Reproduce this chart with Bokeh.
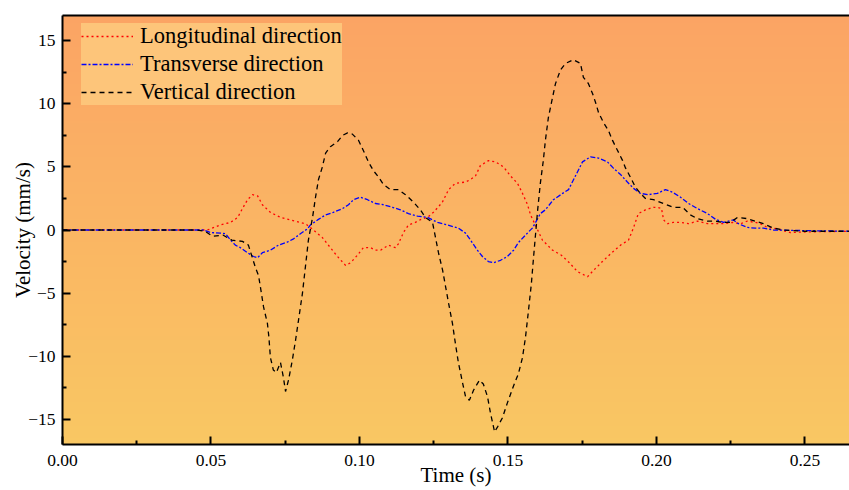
import numpy as np
from bokeh.plotting import figure
from bokeh.models import (Range1d, LinearAxis, FixedTicker, Legend, LegendItem,
                          NumeralTickFormatter)
from bokeh.embed import file_html
from bokeh.resources import INLINE

# ---------------- data ----------------
long_t = [0.0, 0.046, 0.0488, 0.0532, 0.0566, 0.059, 0.0606, 0.0623, 0.064, 0.0657, 0.0673,
          0.070, 0.0734, 0.0768, 0.0801, 0.0818, 0.0845, 0.0875, 0.0902, 0.0926, 0.0953,
          0.097, 0.0993, 0.1013, 0.1037, 0.1054, 0.1071, 0.1098, 0.1121, 0.1131, 0.1148,
          0.1165, 0.1188, 0.1212, 0.1229, 0.1249, 0.1279, 0.1300, 0.1323, 0.1357, 0.1374,
          0.1391, 0.1407, 0.1434, 0.1458, 0.1485, 0.1508, 0.1532, 0.1549, 0.1566, 0.1576,
          0.160, 0.1616, 0.165, 0.168, 0.1707, 0.1734, 0.1768, 0.1788, 0.1818, 0.1845,
          0.1879, 0.1906, 0.1923, 0.1939, 0.1963, 0.199, 0.2003, 0.2017, 0.2024, 0.2037,
          0.2057, 0.2081, 0.2108, 0.2138, 0.2172, 0.2199, 0.2226, 0.2256, 0.2283, 0.2306,
          0.2333, 0.235, 0.2374, 0.2394, 0.2418, 0.2451, 0.2508, 0.265]
long_v = [0.0, 0.0, 0.0, 0.4, 0.6, 1.0, 1.7, 2.4, 2.8, 2.7, 2.0,
          1.4, 1.0, 0.8, 0.6, 0.5, 0.0, -0.6, -1.4, -2.1, -2.8,
          -2.6, -2.0, -1.4, -1.4, -1.6, -1.6, -1.2, -1.4, -1.1, -0.2,
          0.4, 0.6, 0.9, 1.0, 1.4, 2.2, 3.2, 3.7, 3.8, 4.0,
          4.3, 5.1, 5.5, 5.4, 5.0, 4.3, 3.7, 2.9, 2.0, 1.2,
          0.0, -0.8, -1.6, -2.0, -2.6, -3.3, -3.7, -3.2, -2.5, -1.9,
          -1.2, -0.8, 0.2, 1.3, 1.6, 1.8, 1.8, 1.7, 0.8, 0.5,
          0.6, 0.6, 0.5, 0.7, 0.5, 0.5, 0.5, 0.6, 0.5, 0.7,
          0.6, 0.5, 0.2, 0.15, 0.0, -0.2, -0.15, -0.1]

trans_t = [0.0, 0.0431, 0.0475, 0.0498, 0.0532, 0.0549, 0.0566, 0.0582, 0.0599, 0.0623,
           0.0643, 0.0657, 0.0673, 0.070, 0.0727, 0.0758, 0.0778, 0.0801, 0.0825, 0.0835,
           0.0859, 0.0886, 0.0912, 0.0943, 0.0963, 0.098, 0.1003, 0.1027, 0.1054, 0.1081,
           0.1111, 0.1138, 0.1165, 0.1195, 0.1229, 0.1263, 0.1296, 0.1333, 0.1357, 0.1374,
           0.1397, 0.1414, 0.1434, 0.1451, 0.1475, 0.1498, 0.1519, 0.1535, 0.1559, 0.1582,
           0.1593, 0.1609, 0.1626, 0.1653, 0.1684, 0.1704, 0.1721, 0.1734, 0.1751, 0.1778,
           0.1805, 0.1835, 0.1855, 0.1879, 0.1902, 0.1923, 0.1946, 0.1973, 0.2003, 0.2030,
           0.2054, 0.2081, 0.2108, 0.2138, 0.2172, 0.2199, 0.2226, 0.2259, 0.2276, 0.2306,
           0.2333, 0.236, 0.2394, 0.2508, 0.265]
trans_v = [0.0, 0.0, 0.0, -0.2, -0.25, -0.3, -0.8, -1.2, -1.4, -1.8,
           -2.1, -2.2, -1.8, -1.6, -1.2, -0.95, -0.7, -0.3, 0.1, 0.4,
           0.8, 1.2, 1.4, 1.7, 2.0, 2.4, 2.6, 2.4, 2.1, 2.0,
           1.8, 1.6, 1.3, 1.1, 1.0, 0.6, 0.4, 0.15, -0.25, -0.8,
           -1.6, -2.1, -2.5, -2.6, -2.4, -2.1, -1.6, -1.0, -0.4, 0.15,
           0.6, 1.3, 1.6, 2.4, 2.9, 3.2, 4.0, 4.6, 5.4, 5.8,
           5.7, 5.4, 4.9, 4.4, 3.8, 3.3, 2.9, 2.8, 2.9, 3.2,
           3.0, 2.6, 2.1, 1.7, 1.3, 0.85, 0.6, 0.8, 0.5, 0.2,
           0.15, 0.15, 0.0, -0.05, -0.1]

vert_t = [0.0, 0.045, 0.048, 0.0505, 0.054, 0.057, 0.0606, 0.0626, 0.065, 0.066,
          0.0667, 0.0677, 0.069, 0.0695, 0.070, 0.071, 0.072, 0.0734, 0.0744, 0.0751,
          0.0761, 0.0774, 0.0785, 0.0795, 0.0808, 0.0818, 0.0828, 0.0842, 0.0852, 0.0862,
          0.0875, 0.0886, 0.0902, 0.0926, 0.0943, 0.096, 0.0976, 0.0997, 0.1013, 0.103,
          0.1047, 0.1064, 0.1081, 0.1104, 0.1131, 0.1155, 0.1182, 0.1205, 0.1222, 0.1246,
          0.1256, 0.1266, 0.128, 0.129, 0.130, 0.1313, 0.1323, 0.1333, 0.1347, 0.1357,
          0.137, 0.1384, 0.1404, 0.1417, 0.1431, 0.1441, 0.1455, 0.1465, 0.1481, 0.1498,
          0.1518, 0.1535, 0.1549, 0.1559, 0.1569, 0.1579, 0.1586, 0.1593, 0.160, 0.1609,
          0.1619, 0.1626, 0.1636, 0.165, 0.166, 0.1677, 0.1694, 0.172, 0.1744, 0.1754,
          0.1771, 0.1785, 0.1795, 0.1805, 0.1822, 0.1838, 0.1852, 0.1869, 0.1886, 0.1896,
          0.1912, 0.1929, 0.1946, 0.1963, 0.199, 0.2023, 0.2057, 0.2088, 0.2114, 0.2138,
          0.2172, 0.2199, 0.2222, 0.2249, 0.2273, 0.2306, 0.2333, 0.236, 0.2394, 0.2428,
          0.250, 0.265]
vert_v = [0.0, 0.0, -0.1, -0.5, -0.4, -0.8, -0.9, -1.2, -3.0, -3.6,
          -4.6, -6.1, -7.4, -8.5, -10.1, -11.1, -11.3, -10.5, -11.7, -12.8,
          -11.9, -10.3, -8.7, -7.1, -5.0, -2.9, -0.8, 1.0, 2.6, 4.0,
          5.0, 6.1, 6.6, 7.0, 7.5, 7.7, 7.6, 7.1, 6.3, 5.4,
          4.7, 4.2, 3.6, 3.2, 3.2, 2.8, 2.2, 1.6, 1.0, 0.6,
          -0.6, -1.8, -3.2, -4.5, -5.8, -7.4, -9.0, -10.5, -12.1, -13.2,
          -13.5, -12.7, -11.9, -12.2, -13.2, -14.5, -16.0, -15.6, -14.9, -13.7,
          -12.4, -11.4, -10.1, -8.5, -6.4, -4.2, -2.2, -0.3, 1.6, 3.7,
          5.5, 7.1, 8.9, 10.5, 11.6, 12.7, 13.2, 13.5, 13.2, 12.1,
          11.6, 10.8, 10.1, 9.3, 8.5, 7.9, 7.1, 6.3, 5.5, 4.9,
          4.2, 3.4, 2.9, 2.5, 2.4, 2.1, 1.8, 1.8, 1.2, 0.9,
          0.7, 0.7, 0.6, 0.6, 1.0, 0.9, 0.7, 0.5, 0.15, 0.0,
          -0.1, -0.1]

x_ticks = [0.0, 0.05, 0.10, 0.15, 0.20, 0.25]
x_minor = [0.025, 0.075, 0.125, 0.175, 0.225]
y_ticks = [-15, -10, -5, 0, 5, 10, 15]
y_minor = [-12.5, -7.5, -2.5, 2.5, 7.5, 12.5]
y_labels = {-15: "\u221215", -10: "\u221210", -5: "\u22125"}
series_names = ["Longitudinal direction", "Transverse direction", "Vertical direction"]
x_title = "Time (s)"
y_title = "Velocity (mm/s)"

X_MIN, X_MAX = 0.0, 0.265
Y_MIN, Y_MAX = -17.0, 17.0

FONT = "Liberation Serif"

p = figure(width=849, height=490, output_backend="svg", toolbar_location=None,
           x_range=Range1d(X_MIN, X_MAX), y_range=Range1d(Y_MIN, Y_MAX),
           min_border_left=62, min_border_right=0, min_border_top=15, min_border_bottom=46)
p.outline_line_color = None
p.xgrid.visible = False
p.ygrid.visible = False
p.background_fill_color = "#F9B56A"
p.border_fill_color = "white"

# gradient background
N = 430
img = np.empty((N, 1), dtype=np.uint32)
view = img.view(dtype=np.uint8).reshape((N, 1, 4))
bottom_c = np.array([249, 199, 99])
top_c = np.array([251, 164, 100])
for i in range(N):
    f = i / (N - 1)
    c = bottom_c + (top_c - bottom_c) * f
    view[i, 0, 0] = int(round(c[0]))
    view[i, 0, 1] = int(round(c[1]))
    view[i, 0, 2] = int(round(c[2]))
    view[i, 0, 3] = 255
p.image_rgba(image=[img], x=X_MIN, y=Y_MIN, dw=X_MAX - X_MIN, dh=Y_MAX - Y_MIN)

r1 = p.line(long_t, long_v, line_color="#FF0000", line_width=1.3, line_dash="2 3")
r2 = p.line(trans_t, trans_v, line_color="#0000FF", line_width=1.3, line_dash="5 2 2 2")
r3 = p.line(vert_t, vert_v, line_color="#000000", line_width=1.3, line_dash="5 4")

for ax in (p.xaxis[0], p.yaxis[0]):
    ax.axis_line_width = 2
    ax.major_tick_line_width = 2
    ax.minor_tick_line_width = 2
    ax.major_tick_in = 8
    ax.major_tick_out = 0
    ax.minor_tick_in = 4
    ax.minor_tick_out = 0
    ax.major_label_text_font = FONT
    ax.major_label_text_font_size = "17.5px"
    ax.major_label_text_color = "black"
    ax.axis_label_text_font = FONT
    ax.axis_label_text_font_size = "21px"
    ax.axis_label_text_font_style = "normal"
    ax.axis_label_text_color = "black"

p.xaxis[0].ticker = FixedTicker(ticks=x_ticks, minor_ticks=x_minor)
p.xaxis[0].formatter = NumeralTickFormatter(format="0.00")
p.xaxis[0].axis_label = x_title
p.xaxis[0].major_label_standoff = 10
p.xaxis[0].axis_label_standoff = -6

p.yaxis[0].ticker = FixedTicker(ticks=y_ticks, minor_ticks=y_minor)
p.yaxis[0].major_label_overrides = y_labels
p.yaxis[0].axis_label = y_title
p.yaxis[0].major_label_standoff = 7
p.yaxis[0].axis_label_standoff = -10

top_axis = LinearAxis(ticker=FixedTicker(ticks=[]), axis_line_width=2,
                      major_label_text_font_size="0px")
p.add_layout(top_axis, "above")

legend = Legend(items=[LegendItem(label=series_names[0], renderers=[r1]),
                       LegendItem(label=series_names[1], renderers=[r2]),
                       LegendItem(label=series_names[2], renderers=[r3])],
                location=(19, 339))
legend.background_fill_color = "#FDC57A"
legend.background_fill_alpha = 1.0
legend.border_line_color = None
legend.label_text_font = FONT
legend.label_text_font_size = "22.5px"
legend.label_text_color = "black"
legend.glyph_width = 52
legend.glyph_height = 20
legend.label_height = 23
legend.label_standoff = 7
legend.spacing = 2
legend.padding = 2
legend.margin = 0
p.add_layout(legend, "center")

open("out.html", "w").write(file_html(p, INLINE))
